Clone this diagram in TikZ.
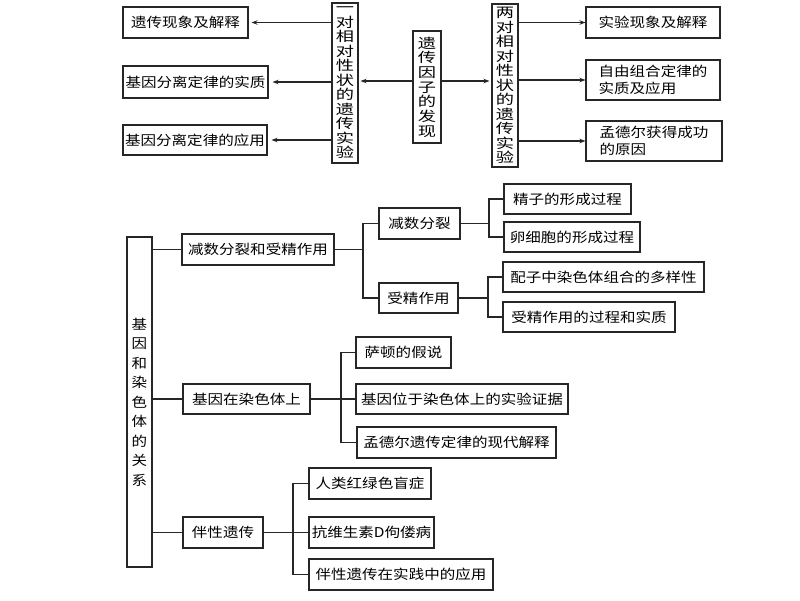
\documentclass[tikz,border=0pt]{standalone}
\usepackage{fontspec}
\newfontfamily\cjk[FakeStretch=1.15]{Noto Sans CJK SC}
\newfontfamily\cjkv[FakeStretch=1.35]{Noto Sans CJK SC}
\usetikzlibrary{arrows.meta}
\begin{document}
\begin{tikzpicture}[x=1pt,y=-1pt,
  box/.style={draw=black!85, line width=1.1pt, inner sep=0pt, font=\cjk\fontsize{13.5}{16.5}\selectfont, align=center},
  vbox/.style={box, font=\cjkv\fontsize{13.5}{14.5}\selectfont},
  ln/.style={draw=black!85, line width=1.1pt},
  arr/.style={ln, -{Stealth[length=6pt,width=4.5pt]}}]
\fill[white] (0,0) rectangle (800,600);
\useasboundingbox (0,0) rectangle (800,600);
% ---------- top part ----------
\node[box, minimum width=125, minimum height=31] (a1) at (185.5,22.5) {遗传现象及解释};
\node[box, minimum width=145, minimum height=32] (a2) at (195.5,82) {基因分离定律的实质};
\node[box, minimum width=144, minimum height=30] (a3) at (195,140) {基因分离定律的应用};
\node[vbox, minimum width=26, minimum height=160] (v1) at (345,83) {一\\对\\相\\对\\性\\状\\的\\遗\\传\\实\\验};
\node[vbox, font=\cjkv\fontsize{13.5}{14.7}\selectfont, minimum width=28, minimum height=112] (c) at (427,87) {遗\\传\\因\\子\\的\\发\\现};
\node[vbox, minimum width=26, minimum height=163] (v2) at (505,85.5) {两\\对\\相\\对\\性\\状\\的\\遗\\传\\实\\验};
\node[box, minimum width=134, minimum height=31] (b1) at (653,22.5) {实验现象及解释};
\node[box, align=left, minimum width=134, minimum height=40] (b2) at (653,80) {自由组合定律的\\实质及应用};
\node[box, align=left, minimum width=136, minimum height=40] (b3) at (654,141) {孟德尔获得成功\\的原因};
\coordinate (cl) at ([yshift=6pt]c.west);
\coordinate (cr) at ([yshift=6pt]c.east);
\draw[arr, shorten >=2pt] (cl) -- (cl -| v1.east);
\draw[arr, shorten >=2pt] (cr) -- (cr -| v2.west);
\draw[arr, shorten >=3pt] (v1.west |- a1.east) -- (a1.east);
\draw[arr, shorten >=4pt] (v1.west |- a2.east) -- (a2.east);
\draw[arr, shorten >=4pt] (v1.west |- a3.east) -- (a3.east);
\draw[arr] (v2.east |- b1.west) -- (b1.west);
\draw[arr] (v2.east |- b2.west) -- (b2.west);
\draw[arr] (v2.east |- b3.west) -- (b3.west);
% ---------- bottom part ----------
\node[box, font=\cjk\fontsize{13.5}{19.5}\selectfont, minimum width=25, minimum height=330] (M) at (139.5,402) {基\\因\\和\\染\\色\\体\\的\\关\\系};
\node[box, minimum width=152, minimum height=31] (R1) at (258,249.5) {减数分裂和受精作用};
\node[box, minimum width=81, minimum height=31] (R1a) at (419.5,223.5) {减数分裂};
\node[box, minimum width=79, minimum height=30] (R1b) at (418.5,298) {受精作用};
\node[box, minimum width=127, minimum height=30] (L1) at (567.5,199) {精子的形成过程};
\node[box, minimum width=136, minimum height=30] (L2) at (572,237) {卵细胞的形成过程};
\node[box, minimum width=201, minimum height=30] (L3) at (603.5,277) {配子中染色体组合的多样性};
\node[box, minimum width=172, minimum height=30] (L4) at (589,317) {受精作用的过程和实质};
\node[box, minimum width=127, minimum height=30] (R2) at (246.5,399) {基因在染色体上};
\node[box, minimum width=95, minimum height=31] (S1) at (403.5,352.5) {萨顿的假说};
\node[box, minimum width=212, minimum height=30] (S2) at (462,399) {基因位于染色体上的实验证据};
\node[box, minimum width=199, minimum height=31] (S3) at (456.5,442.5) {孟德尔遗传定律的现代解释};
\node[box, minimum width=80, minimum height=31] (R3) at (223,532.5) {伴性遗传};
\node[box, minimum width=122, minimum height=31] (T1) at (370,483.5) {人类红绿色盲症};
\node[box, minimum width=125, minimum height=31] (T2) at (371.5,532.5) {抗维生素D佝偻病};
\node[box, minimum width=184, minimum height=31] (T3) at (401,574.5) {伴性遗传在实践中的应用};
\coordinate (k1) at (363,0);
\coordinate (k2) at (489,0);
\coordinate (k3) at (488,0);
\coordinate (k4) at (341,0);
\coordinate (k5) at (293,0);
\draw[ln] (R1.west) -- (R1.west -| M.east);
\draw[ln] (R2.west) -- (R2.west -| M.east);
\draw[ln] (R3.west) -- (R3.west -| M.east);
\draw[ln] (R1.east) -- (R1.east -| k1);
\draw[ln] (R1a.west) -- (R1a.west -| k1) -- (R1b.west -| k1) -- (R1b.west);
\draw[ln] (R1a.east) -- (R1a.east -| k2);
\draw[ln] (L1.west) -- (L1.west -| k2) -- (L2.west -| k2) -- (L2.west);
\draw[ln] (R1b.east) -- (R1b.east -| k3);
\draw[ln] (L3.west) -- (L3.west -| k3) -- (L4.west -| k3) -- (L4.west);
\draw[ln] (R2.east) -- (S2.west);
\draw[ln] (S1.west) -- (S1.west -| k4) -- (S3.west -| k4) -- (S3.west);
\draw[ln] (R3.east) -- (T2.west);
\draw[ln] (T1.west) -- (T1.west -| k5) -- (T3.west -| k5) -- (T3.west);
\end{tikzpicture}
\end{document}
